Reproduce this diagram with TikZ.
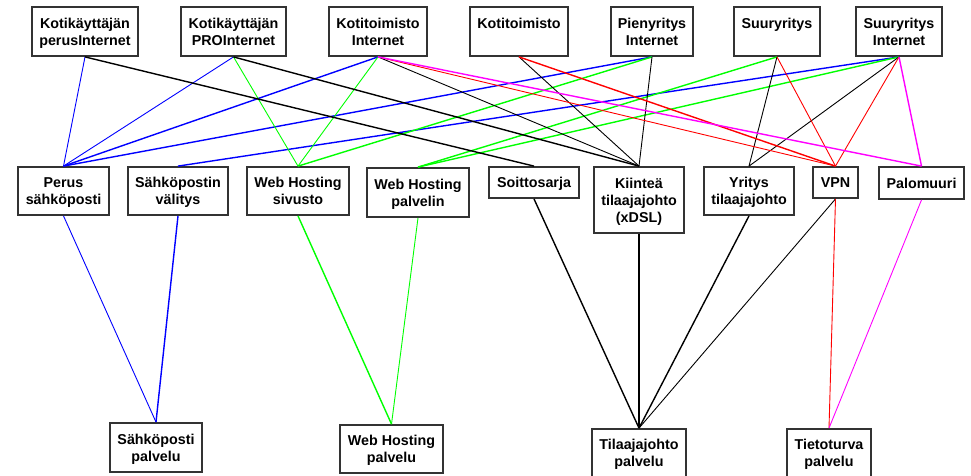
\documentclass[tikz,border=0pt]{standalone}
\usepackage{fontspec}
\setmainfont{Liberation Sans}
\begin{document}
\begin{tikzpicture}[x=1pt,y=-1pt,
  box/.style={draw=black!80, line width=1.8pt, fill=white, inner sep=0pt, align=center,
    font=\fontsize{14.3}{17}\selectfont\bfseries, text depth=-0.8pt},
  thk/.style={line width=1.4pt},
  thn/.style={line width=0.9pt},
  lnblue/.style={draw={rgb,255:red,0;green,0;blue,255}},
  lngreen/.style={draw={rgb,255:red,0;green,255;blue,0}},
  lnred/.style={draw={rgb,255:red,255;green,0;blue,0}},
  lnmag/.style={draw={rgb,255:red,255;green,0;blue,255}},
  lnblack/.style={draw=black}]
\useasboundingbox (0,0) rectangle (971,475);
% top row
\node[box, minimum width=106pt, minimum height=49pt] (t1) at (85,31.5) {Kotikäyttäjän\\perusInternet};
\node[box, minimum width=105pt, minimum height=49pt] (t2) at (233.5,31.5) {Kotikäyttäjän\\PROInternet};
\node[box, minimum width=98pt, minimum height=49pt] (t3) at (378,31.5) {Kotitoimisto\\Internet};
\node[box, minimum width=98pt, minimum height=49pt] (t4) at (519,31.5) {Kotitoimisto\\\mbox{}};
\node[box, minimum width=82pt, minimum height=49pt] (t5) at (652,31.5) {Pienyritys\\Internet};
\node[box, minimum width=86pt, minimum height=49pt] (t6) at (777,31.5) {Suuryritys\\\mbox{}};
\node[box, minimum width=86pt, minimum height=49pt] (t7) at (899,31.5) {Suuryritys\\Internet};
% middle row
\node[box, minimum width=91pt, minimum height=48pt] (m1) at (63.5,191) {Perus\\sähköposti};
\node[box, minimum width=100pt, minimum height=48pt] (m2) at (178,191) {Sähköpostin\\välitys};
\node[box, minimum width=102pt, minimum height=48pt] (m3) at (298,191) {Web Hosting\\sivusto};
\node[box, minimum width=102pt, minimum height=49pt] (m4) at (418,192.5) {Web Hosting\\palvelin};
\node[box, minimum width=90pt, minimum height=31pt] (m5) at (534,182.5) {Soittosarja};
\node[box, minimum width=90pt, minimum height=66pt] (m6) at (639,200) {Kiinteä\\tilaajajohto\\(xDSL)};
\node[box, minimum width=90pt, minimum height=48pt] (m7) at (749,191) {Yritys\\tilaajajohto};
\node[box, minimum width=45pt, minimum height=31pt] (m8) at (835.5,182.5) {VPN};
\node[box, minimum width=85pt, minimum height=32pt] (m9) at (921.5,183) {Palomuuri};
% bottom row
\node[box, minimum width=92pt, minimum height=49pt] (b1) at (156,447.5) {Sähköposti\\palvelu};
\node[box, minimum width=103pt, minimum height=48pt] (b2) at (391.5,449) {Web Hosting\\palvelu};
\node[box, minimum width=94pt, minimum height=48pt] (b3) at (639,453) {Tilaajajohto\\palvelu};
\node[box, minimum width=84pt, minimum height=48pt] (b4) at (829,453) {Tietoturva\\palvelu};
% blue
\draw[lnblue,thn] (t1.south) -- (m1.north);
\draw[lnblue,thn] (t2.south) -- (m1.north);
\draw[lnblue,thk] (t3.south) -- (m1.north);
\draw[lnblue,thk] (t5.south) -- (m1.north);
\draw[lnblue,thk] (t7.south) -- (m2.north);
\draw[lnblue,thn] (m1.south) -- (b1.north);
\draw[lnblue,thk] (m2.south) -- (b1.north);
% green
\draw[lngreen,thn] (t2.south) -- (m3.north);
\draw[lngreen,thn] (t3.south) -- (m3.north);
\draw[lngreen,thk] (t5.south) -- (m3.north);
\draw[lngreen,thk] (t6.south) -- (m4.north);
\draw[lngreen,thk] (t7.south) -- (m4.north);
\draw[lngreen,thk] (m3.south) -- (b2.north);
\draw[lngreen,thn] (m4.south) -- (b2.north);
% black
\draw[lnblack,thk] (t1.south) -- (m5.north);
\draw[lnblack,thk] (t2.south) -- (m6.north);
\draw[lnblack,thn] (t3.south) -- (m6.north);
\draw[lnblack,thn] (t4.south) -- (m6.north);
\draw[lnblack,thn] (t5.south) -- (m6.north);
\draw[lnblack,thn] (t6.south) -- (m7.north);
\draw[lnblack,thn] (t7.south) -- (m7.north);
\draw[lnblack,thk] (m5.south) -- (b3.north);
\draw[lnblack,thk] (m6.south) -- (b3.north);
\draw[lnblack,thk] (m7.south) -- (b3.north);
\draw[lnblack,thn] (m8.south) -- (b3.north);
% red
\draw[lnred,thn] (t3.south) -- (m8.north);
\draw[lnred,thk] (t4.south) -- (m8.north);
\draw[lnred,thn] (t6.south) -- (m8.north);
\draw[lnred,thn] (t7.south) -- (m8.north);
\draw[lnred,thn] (m8.south) -- (b4.north);
% magenta
\draw[lnmag,thk] (t3.south) -- (m9.north);
\draw[lnmag,thk] (t7.south) -- (m9.north);
\draw[lnmag,thn] (m9.south) -- (b4.north);
\end{tikzpicture}
\end{document}
